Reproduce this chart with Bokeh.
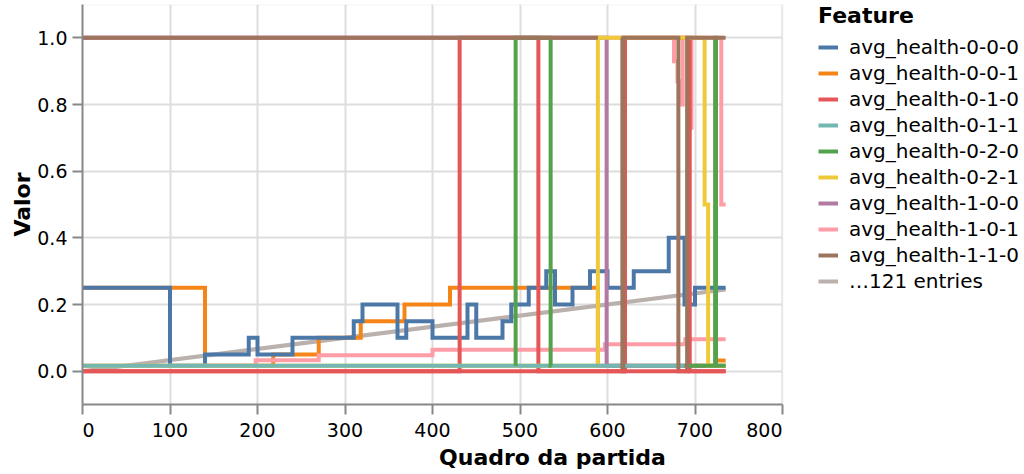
from bokeh.plotting import figure
from bokeh.models import (Range1d, FixedTicker, PrintfTickFormatter, Legend, LegendItem,
                          BoxAnnotation)
from bokeh.embed import file_html
from bokeh.resources import INLINE

# ---------------- data (step-after: value holds from its frame to the next) ----------------
blue_frames = [0, 100, 140, 190, 200, 240, 310, 320, 360, 370, 400, 440, 450, 480, 490, 510,
               530, 540, 560, 580, 600, 630, 670, 688, 700, 735]
blue_values = [0.25, 0.016, 0.05, 0.10, 0.05, 0.10, 0.15, 0.20, 0.10, 0.15, 0.10, 0.20, 0.10,
               0.15, 0.20, 0.25, 0.30, 0.20, 0.25, 0.30, 0.25, 0.30, 0.40, 0.20, 0.25, 0.25]

orange_frames = [0, 140, 218, 270, 318, 368, 420, 589, 724, 735]
orange_values = [0.25, 0.016, 0.05, 0.10, 0.15, 0.20, 0.25, 0.016, 0.032, 0.032]

red_frames = [0, 431, 521, 620, 694, 735]
red_values = [0.0, 1.0, 0.0, 1.0, 0.0, 0.0]

teal_frames = [0, 688]
teal_values = [0.016, None]

green_frames = [495, 495, 535, 536, 688, 723, 724, 735]
green_values = [0.016, 1.0, 0.016, None, 0.016, 1.0, 0.016, 0.016]

yellow_frames = [0, 589, 711, 715, 735]
yellow_values = [0.016, 1.0, 0.5, 0.016, 0.016]

purple_frames = [0, 599, 735]
purple_values = [1.0, 0.016, 0.016]

pink_frames = [0, 198, 270, 400, 597, 689, 735]
pink_values = [0.016, 0.033, 0.048, 0.064, 0.081, 0.096, 0.096]

brown_frames = [0, 589, 617, 617, 618, 681, 691, 735]
brown_values = [1.0, None, 1.0, 0.0, 1.0, 0.0, 1.0, 1.0]

# remaining features (only a few of the 121 are distinguishable)
other_gray_frames = [0, 735]
other_gray_values = [0.0, 0.245]
other_pink_frames = [0, 676, 680, 685, 686, 695, 696, 730, 735]
other_pink_values = [1.0, 0.93, 0.87, 0.80, 1.0, 0.73, 1.0, 0.5, 0.5]
other_red_frames = [0, 735]
other_red_values = [0.0, 0.0]

labels = ["avg_health-0-0-0", "avg_health-0-0-1", "avg_health-0-1-0", "avg_health-0-1-1",
          "avg_health-0-2-0", "avg_health-0-2-1", "avg_health-1-0-0", "avg_health-1-0-1",
          "avg_health-1-1-0", "\u2026121 entries"]
colors = ["#4c78a8", "#f58518", "#e45756", "#72b7b2", "#54a24b",
          "#eeca3b", "#b279a2", "#ff9da6", "#9d755d", "#bab0ac"]

x_ticks = [0, 100, 200, 300, 400, 500, 600, 700, 800]
y_ticks = [0.0, 0.2, 0.4, 0.6, 0.8, 1.0]
X_MIN, X_MAX = 0, 800
Y_MIN, Y_MAX = -0.1, 1.1


def step_segments(xs, vs):
    seg_xs, seg_ys = [], []
    cx, cy = [], []
    for i in range(len(xs)):
        x, v = xs[i], vs[i]
        if i > 0 and vs[i - 1] is not None:
            cx.append(x); cy.append(vs[i - 1])
        if v is None:
            if len(cx) > 1:
                seg_xs.append(cx); seg_ys.append(cy)
            cx, cy = [], []
        else:
            cx.append(x); cy.append(v)
    if len(cx) > 1:
        seg_xs.append(cx); seg_ys.append(cy)
    return seg_xs, seg_ys


# layout: the plotting area (700 px for 0..800) is followed by room for the legend
W, H = 1022, 472
LEFT, TOP, BOTTOM = 82, 4, 68
PLOT_W = 700
frame_w = W - LEFT
x_view_end = X_MAX * frame_w / PLOT_W

p = figure(width=W, height=H, x_range=Range1d(X_MIN, x_view_end), y_range=Range1d(Y_MIN, Y_MAX),
           output_backend="svg", toolbar_location=None,
           min_border_left=LEFT, min_border_right=0, min_border_top=TOP, min_border_bottom=BOTTOM)
p.outline_line_color = None

p.xaxis.ticker = FixedTicker(ticks=x_ticks)
p.xaxis.bounds = (X_MIN, X_MAX)
p.yaxis.ticker = FixedTicker(ticks=y_ticks)
p.yaxis.formatter = PrintfTickFormatter(format="%.1f")
p.xaxis.major_label_overrides = {0: "\u20070", 800: "800\u2007\u2007\u2007"}
p.xaxis.axis_label = "Quadro da partida"
p.yaxis.axis_label = "Valor"
for ax in (p.xaxis[0], p.yaxis[0]):
    ax.axis_line_color = "#888888"
    ax.axis_line_width = 2
    ax.major_tick_line_color = "#888888"
    ax.major_tick_line_width = 2
    ax.major_tick_out = 10
    ax.major_tick_in = 0
    ax.minor_tick_line_color = None
    ax.major_label_text_font = "DejaVu Sans"
    ax.major_label_text_font_size = "19px"
    ax.major_label_text_color = "#000000"
    ax.axis_label_text_font = "DejaVu Sans"
    ax.axis_label_text_font_size = "22px"
    ax.axis_label_text_font_style = "bold"
    ax.axis_label_text_color = "#000000"
p.xaxis.major_label_standoff = 4
p.xaxis.axis_label_standoff = 1
p.yaxis.major_label_standoff = 5
p.yaxis.axis_label_standoff = -1

for g in (p.xgrid[0], p.ygrid[0]):
    g.grid_line_color = "#dddddd"
    g.grid_line_width = 2
p.xgrid.ticker = FixedTicker(ticks=x_ticks)
p.ygrid.ticker = FixedTicker(ticks=y_ticks)

# blank out the area right of the plotting area, then draw the plot border
p.add_layout(BoxAnnotation(left=X_MAX, fill_color="white", fill_alpha=1.0, line_color=None,
                           level="underlay"))
p.add_layout(BoxAnnotation(left=X_MIN, right=X_MAX, bottom=Y_MIN, top=Y_MAX, fill_alpha=0,
                           line_color="#dddddd", line_width=2, level="underlay"))

LW = 4


def draw_step(xs, vs, color):
    sx, sy = step_segments(xs, vs)
    return p.multi_line(sx, sy, line_color=color, line_width=LW, line_join="miter", line_cap="butt")


r_gray = p.line(other_gray_frames, other_gray_values, line_color=colors[9], line_width=LW)
r_orange = draw_step(orange_frames, orange_values, colors[1])
r_blue = draw_step(blue_frames, blue_values, colors[0])
r_pink = draw_step(pink_frames, pink_values, colors[7])
draw_step(other_pink_frames, other_pink_values, colors[7])
r_red = draw_step(red_frames, red_values, colors[2])
r_purple = draw_step(purple_frames, purple_values, colors[6])
r_yellow = draw_step(yellow_frames, yellow_values, colors[5])
r_teal = draw_step(teal_frames, teal_values, colors[3])
r_green = draw_step(green_frames, green_values, colors[4])
r_brown = draw_step(brown_frames, brown_values, colors[8])
draw_step(other_red_frames, other_red_values, colors[2])

rends = [r_blue, r_orange, r_red, r_teal, r_green, r_yellow, r_purple, r_pink, r_brown, r_gray]
items = [LegendItem(label=lab, renderers=[r]) for lab, r in zip(labels, rends)]
legend = Legend(items=items, title="Feature", location=(736, 110.5),
                label_text_font="DejaVu Sans", label_text_font_size="20px", label_text_color="#000000",
                title_text_font="DejaVu Sans", title_text_font_size="22px",
                title_text_font_style="bold", title_text_color="#000000",
                title_standoff=6, spacing=0, padding=0, margin=0,
                glyph_width=20, glyph_height=26, label_standoff=11, label_height=26,
                border_line_color=None, background_fill_alpha=0)
p.add_layout(legend)

open("out.html", "w").write(file_html(p, INLINE))
